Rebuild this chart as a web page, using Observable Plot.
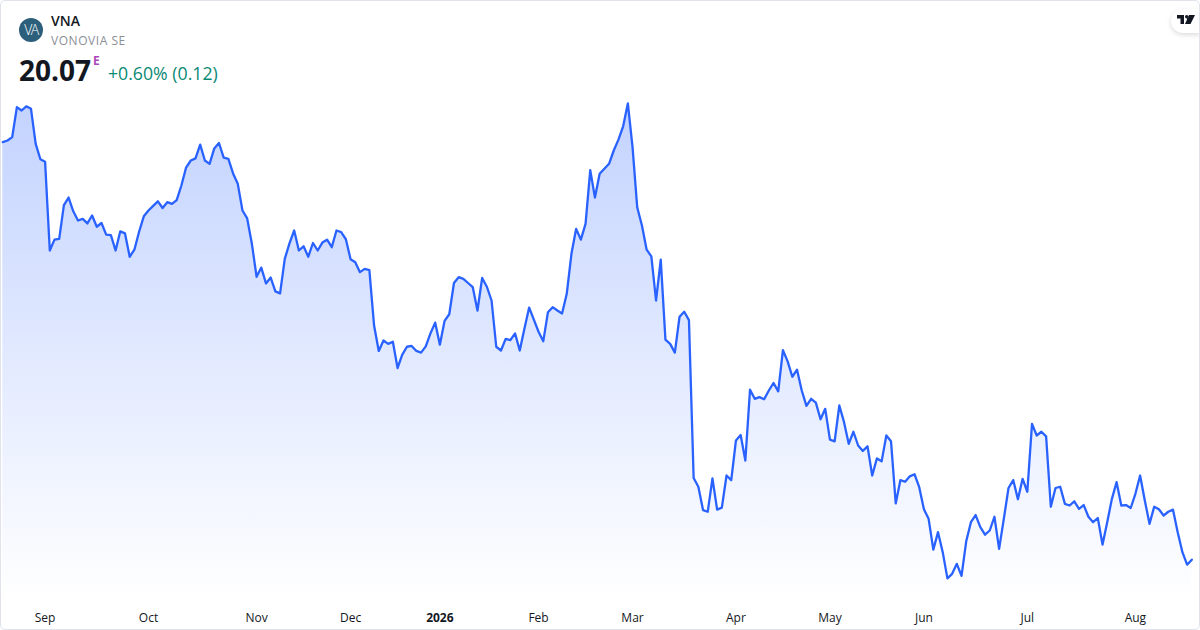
<!DOCTYPE html>
<html>
<head>
<meta charset="utf-8">
<script src="https://cdn.jsdelivr.net/npm/d3@7"></script>
<script src="https://cdn.jsdelivr.net/npm/@observablehq/plot@0.6"></script>
<style>
html,body{margin:0;padding:0;background:#fff;width:1200px;height:630px;overflow:hidden}
body{position:relative;font-family:"Open Sans","Noto Sans",sans-serif}
#chart{position:absolute;left:0;top:0}
#frame{position:absolute;inset:0;border:1px solid #e0e3eb;border-radius:5px;box-sizing:border-box;pointer-events:none}
.t{position:absolute;white-space:nowrap;line-height:1}
#logo{position:absolute;left:19px;top:18px;width:24px;height:24px;border-radius:50%;background:#2c5f7c;color:#fff;font-size:14px;font-weight:300;line-height:24px;text-align:center;letter-spacing:-1.5px}
#tv{position:absolute;left:1171px;top:9px;width:29px;height:24px;background:#fff;border-radius:12px 0 0 12px;box-shadow:0 2px 5px rgba(0,0,0,.14)}
#tv svg{position:absolute;left:6px;top:6px}
</style>
</head>
<body>
<div id="chart"></div>
<div id="logo">VA</div>
<div class="t" style="left:51px;top:14px;font-size:14px;font-weight:600;color:#131722">VNA</div>
<div class="t" style="left:51px;top:35px;font-size:12px;letter-spacing:.55px;color:#8c8f96">VONOVIA SE</div>
<div class="t" style="left:19px;top:56px;font-size:28px;font-weight:700;color:#131722">20.07</div>
<div class="t" style="left:93px;top:55px;font-size:12px;font-weight:700;color:#ab47bc">E</div>
<div class="t" style="left:108px;top:65px;font-size:17.7px;color:#0a8a74">+0.60% (0.12)</div>
<div id="tv"><svg width="18" height="10" viewBox="0 0 18 10"><path fill="#131722" d="M0 0H7V9H3.5V3.5H0ZM12 0H18L13.5 9H8ZM8 1.7a1.7 1.7 0 1 0 3.4 0a1.7 1.7 0 1 0-3.4 0Z"/></svg></div>
<div id="frame"></div>
<script>
const closes = [30.09,30.13,30.21,30.93,30.85,30.95,30.89,30.05,29.68,29.62,27.49,27.75,27.77,28.58,28.76,28.43,28.21,28.25,28.14,28.33,28.06,28.15,27.87,27.86,27.49,27.95,27.90,27.34,27.51,27.94,28.31,28.45,28.56,28.67,28.51,28.65,28.61,28.70,29.05,29.48,29.65,29.70,30.03,29.65,29.57,29.94,30.07,29.72,29.69,29.34,29.09,28.45,28.26,27.65,26.86,27.08,26.70,26.84,26.51,26.46,27.29,27.66,27.97,27.49,27.59,27.34,27.67,27.49,27.68,27.75,27.57,27.97,27.93,27.76,27.28,27.21,26.97,27.05,27.02,25.69,25.08,25.33,25.25,25.30,24.67,24.99,25.18,25.20,25.08,25.04,25.19,25.50,25.76,25.23,25.80,25.96,26.71,26.85,26.81,26.71,26.61,26.05,26.83,26.62,26.29,25.18,25.09,25.37,25.34,25.50,25.09,25.62,26.12,25.83,25.54,25.31,26.01,26.13,26.05,25.98,26.45,27.41,28.01,27.75,28.13,29.42,28.76,29.33,29.45,29.57,29.89,30.15,30.47,31.02,29.97,28.52,28.09,27.51,27.35,26.29,27.27,25.35,25.25,25.04,25.90,26.02,25.82,22.03,21.82,21.26,21.22,22.02,21.27,21.32,22.09,21.98,22.93,23.06,22.45,24.15,23.93,23.97,23.92,24.13,24.31,24.11,25.10,24.83,24.46,24.63,24.13,23.76,23.93,23.84,23.44,23.69,22.95,22.91,23.77,23.37,22.85,23.14,22.81,22.68,22.79,22.09,22.50,22.43,23.05,22.91,21.42,21.98,21.94,22.07,22.12,21.81,21.28,21.05,20.31,20.73,20.25,19.62,19.73,19.97,19.68,20.51,20.97,21.14,20.85,20.67,20.77,21.10,20.33,21.05,21.79,21.98,21.52,22.01,21.70,23.33,23.05,23.14,23.03,21.34,21.79,21.82,21.41,21.37,21.47,21.29,21.38,21.10,20.97,21.07,20.43,20.97,21.53,21.93,21.37,21.38,21.31,21.65,22.09,21.49,20.93,21.34,21.28,21.13,21.22,21.27,20.73,20.25,19.95,20.07];
const monthTicks = [9,31,54,74,114,134,156,176,196,218,241];
const monthLabels = ["Sep","Oct","Nov","Dec","Feb","Mar","Apr","May","Jun","Jul","Aug"];
const yearTicks = [93];
const yearLabels = ["2026"];
const priceFloor = 19.09;
const priceCeil = 31.09;

const gradient = () => {
  const defs = d3.create("svg:defs");
  const g = defs.append("linearGradient").attr("id","fade").attr("x1",0).attr("y1",0).attr("x2",0).attr("y2",1);
  g.append("stop").attr("offset","0").attr("stop-color","#2962ff").attr("stop-opacity",0.28);
  g.append("stop").attr("offset","1").attr("stop-color","#2962ff").attr("stop-opacity",0);
  return defs.node();
};

const axisStyle = {anchor:"bottom",tickSize:0,tickPadding:13,fontSize:12,color:"#131722",label:null,fontFamily:"'Open Sans',sans-serif"};

const chart = Plot.plot({
  width:1200,height:630,
  marginTop:100,marginBottom:30,marginLeft:0,marginRight:0,
  style:{background:"transparent",overflow:"visible"},
  x:{domain:[0,closes.length-1],range:[2.3,1191.3],axis:null},
  y:{domain:[priceFloor,priceCeil],axis:null},
  marks:[
    gradient,
    Plot.areaY(closes,{x:(d,i)=>i,y1:()=>priceFloor,y2:d=>d,fill:"url(#fade)"}),
    Plot.line(closes,{x:(d,i)=>i,y:d=>d,stroke:"#2962ff",strokeWidth:2.3,strokeLinejoin:"round"}),
    Plot.axisX({...axisStyle,ticks:monthTicks,tickFormat:v=>monthLabels[monthTicks.indexOf(v)]}),
    Plot.axisX({...axisStyle,ticks:yearTicks,tickFormat:v=>yearLabels[yearTicks.indexOf(v)],fontWeight:700})
  ]
});
document.getElementById("chart").appendChild(chart);
</script>
</body>
</html>
